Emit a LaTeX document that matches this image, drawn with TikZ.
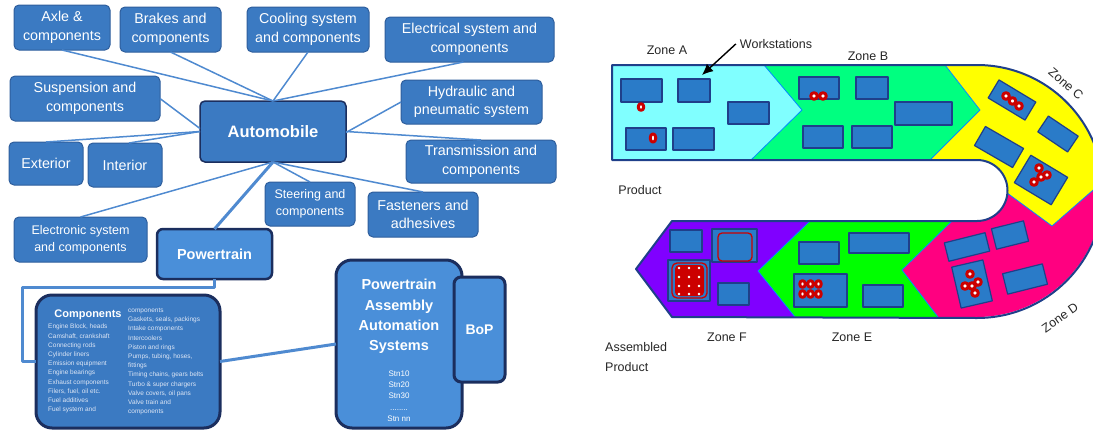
\documentclass[tikz,border=0pt]{standalone}
\usepackage{fontspec}
\setmainfont{Liberation Sans}
\usetikzlibrary{arrows.meta}
\definecolor{boxblue}{HTML}{3B7AC2}
\definecolor{boxline}{HTML}{2E5E9C}
\definecolor{navy}{HTML}{1B2E5E}
\definecolor{lightblue}{HTML}{4A8FD9}
\definecolor{linkblue}{HTML}{4F8AD0}
\definecolor{wsblue}{HTML}{2A7BC8}
\definecolor{wsline}{HTML}{1F3F8A}
\definecolor{ringred}{HTML}{CC0000}
\definecolor{zoneA}{HTML}{80FFFF}
\definecolor{zoneB}{HTML}{00FF80}
\definecolor{zoneC}{HTML}{FFFF00}
\definecolor{zoneD}{HTML}{FF0080}
\definecolor{zoneE}{HTML}{00FF00}
\definecolor{zoneF}{HTML}{8000FF}
\definecolor{listtext}{HTML}{DDE6F5}
\begin{document}
\begin{tikzpicture}[x=1pt, y=-1pt, line join=round,
    box/.style={draw=boxline, fill=boxblue, line width=1pt, rounded corners=5pt, text=white, align=center, font=\fontsize{14.3}{18.5}\selectfont, inner sep=0pt, outer sep=0pt},
    smallbox/.style={box, font=\fontsize{12.5}{17}\selectfont},
    bigbox/.style={box, draw=navy, fill=lightblue, line width=2.5pt, font=\bfseries\fontsize{14.5}{20.5}\selectfont},
    link/.style={draw=linkblue, line width=1.5pt},
    trunk/.style={draw=linkblue, line width=3pt},
    list/.style={text=listtext, align=left, inner sep=0pt, font=\fontsize{6.5}{9.2}\selectfont},
    ws/.style={draw=wsline, fill=wsblue, line width=1.2pt},
    ring/.style={draw=ringred, fill=white, line width=3pt},
    blob/.style={fill=ringred},
    zoneline/.style={draw=blue!45!cyan, line width=0.8pt},
    lbl/.style={font=\fontsize{12.5}{20}\selectfont, text=black!85, inner sep=0pt}]

\useasboundingbox (0,0) rectangle (1093,429);

\node[box, minimum width=96, minimum height=45] (axle) at (62,27.5) {Axle \&\\components};
\node[box, minimum width=101, minimum height=45] (brakes) at (170.5,29.5) {Brakes and\\components};
\node[box, minimum width=122, minimum height=45] (cool) at (308,29.5) {Cooling system\\and components};
\node[box, minimum width=169, minimum height=45] (elec) at (469.5,39.5) {Electrical system and\\components};
\node[box, minimum width=150, minimum height=45] (susp) at (85,98.5) {Suspension and\\components};
\node[box, draw=navy, line width=1.5pt, minimum width=146, minimum height=61, font=\bfseries\fontsize{16.5}{20}\selectfont] (auto) at (273,131.5) {Automobile};
\node[box, minimum width=141, minimum height=44] (hyd) at (471.5,102) {Hydraulic and\\pneumatic system};
\node[box, minimum width=74, minimum height=43] (ext) at (46,163.5) {Exterior};
\node[box, minimum width=74, minimum height=44] (int) at (125,165) {Interior};
\node[box, minimum width=150, minimum height=43] (trans) at (481,161.5) {Transmission and\\components};
\node[smallbox, minimum width=90, minimum height=44] (steer) at (310,204) {Steering and\\components};
\node[box, minimum width=110, minimum height=45] (fast) at (423,214.5) {Fasteners and\\adhesives};
\node[smallbox, minimum width=133, minimum height=45] (elecsys) at (80.5,239.5) {Electronic system\\and components};
\node[bigbox, minimum width=115, minimum height=50, rounded corners=6pt] (pt) at (214.5,254) {Powertrain};

\node[box, draw=navy, line width=3pt, rounded corners=16pt, minimum width=184, minimum height=133] (comp) at (128,361.5) {};
\node[text=white, inner sep=0pt, font=\bfseries\fontsize{11}{13}\selectfont] (comptitle) at (88,315) {Components};
\node[list, anchor=north west] (compleft) at (48,324) {Engine Block, heads\\Camshaft, crankshaft\\Connecting rods\\Cylinder liners\\Emission equipment\\Engine bearings\\Exhaust components\\Filers, fuel, oil etc.\\Fuel additives\\Fuel system and};
\node[list, anchor=north west] (compright) at (128,308) {components\\Gaskets, seals, packings\\Intake components\\Intercoolers\\Piston and rings\\Pumps, tubing, hoses,\\fittings\\Timing chains, gears belts\\Turbo \& super chargers\\Valve covers, oil pans\\Valve train and\\components};

\node[bigbox, line width=3pt, rounded corners=16pt, minimum width=126, minimum height=168] (paas) at (399,344) {};
\node[text=white, align=center, inner sep=0pt, font=\bfseries\fontsize{14.5}{20.3}\selectfont] (paastitle) at (399,316.5) {Powertrain\\Assembly\\Automation\\Systems};
\node[text=white, align=center, inner sep=0pt, font=\fontsize{8}{11.3}\selectfont] (stations) at (399,396) {Stn10\\Stn20\\Stn30\\........\\Stn nn};
\node[bigbox, line width=3pt, rounded corners=7pt, minimum width=51, minimum height=105, font=\bfseries\fontsize{14}{17}\selectfont] (bop) at (479.5,329.5) {BoP};

\draw[link] (axle.south) -- (auto.north);
\draw[link] (brakes.south) -- (auto.north);
\draw[link] (cool.south) -- (auto.north);
\draw[link] ([xshift=-6pt]elec.south) -- (auto.north);
\draw[link] (hyd.west) -- ([yshift=-1pt]auto.east);
\draw[link] (trans.north) -- (auto.east);
\draw[link] (susp.east) -- ([yshift=3pt]auto.west);
\draw[link] (ext.north) -- (auto.west);
\draw[link] ([xshift=4pt]int.north) -- (auto.west);
\draw[link] (elecsys.north) -- (auto.south);
\draw[link] (steer.north) -- (auto.south);
\draw[link] (fast.north) -- (auto.south);
\draw[trunk] (pt.north) -- (auto.south);
\draw[trunk] (pt.south) -- ++(0,8) -| ([xshift=-14pt]comp.west) -- (comp.west);
\draw[trunk] (comp.east) -- (paas.west);

\fill[zoneA] (612,65) -- (764,65) -- (802,110) -- (751,160) -- (612,160) -- cycle;
\fill[zoneB] (764,65) -- (945,65) -- (980,110) -- (930,160) -- (751,160) -- (802,110) -- cycle;
\fill[zoneC] (945,65) -- (977,65) arc[start angle=-90, end angle=-4, radius=126.5] -- (1052,226) -- (1007.4,193.2) arc[start angle=5, end angle=-90, radius=30.5] -- (930,160) -- (980,110) -- cycle;
\fill[zoneD] (1102.7,181.7) arc[start angle=-4, end angle=90, radius=126.5] -- (938,317) -- (902,270) -- (952,221) -- (977,221) arc[start angle=90, end angle=5, radius=30.5] -- (1052,226) -- cycle;
\fill[zoneE] (952,221) -- (902,270) -- (938,317) -- (795,317) -- (758,271) -- (810,221) -- cycle;
\fill[zoneF] (810,221) -- (758,271) -- (795,317) -- (672,317) -- (636,269) -- (672,221) -- cycle;

\draw[zoneline] (764,65) -- (802,110) -- (751,160);
\draw[zoneline] (945,65) -- (980,110) -- (930,160);
\draw[zoneline] (1007.4,193.2) -- (1052,226) -- (1102.7,181.7);
\draw[zoneline] (952,221) -- (902,270) -- (938,317);
\draw[zoneline] (810,221) -- (758,271) -- (795,317);
\draw[draw=wsline, line width=2pt] (612,65) -- (977,65) arc[start angle=-90, end angle=90, radius=126.5] -- (672,317) -- (636,269) -- (672,221) -- (977,221) arc[start angle=90, end angle=-90, radius=30.5] -- (612,160) -- cycle;

\draw[ws] (621,79) rectangle (662,102);
\draw[ws] (678,79) rectangle (710,102);
\draw[ws] (728,102) rectangle (769,124);
\draw[ws] (626,128) rectangle (666,150);
\draw[ws] (673,128) rectangle (714,150);
\draw[ring] (641,107) ellipse[x radius=2.8, y radius=3.4];
\draw[ring] (653,138) ellipse[x radius=2.8, y radius=4.2];

\draw[ws] (799,77) rectangle (839,99);
\draw[ws] (856,77) rectangle (888,99);
\draw[ws] (803,126) rectangle (843,148);
\draw[ws] (852,126) rectangle (892,148);
\draw[ws] (895,102) rectangle (952,125);
\draw[ring] (814,96) circle[radius=3.3] (823,96) circle[radius=3.3];

\draw[ws, rotate around={-31:(1012,100)}] (990.5,89.5) rectangle (1033.5,110.5);
\draw[ws, rotate around={-34:(1058,134)}] (1040,124.5) rectangle (1076,143.5);
\draw[ws, rotate around={-30:(999,147)}] (977,136) rectangle (1021,158);
\draw[ws, rotate around={-31:(1041,180)}] (1019.5,164) rectangle (1062.5,196);
\draw[ring] (1006,96) circle[radius=3.3] (1012.5,101) circle[radius=3.3] (1019,106) circle[radius=3.3];
\draw[ring] (1039,168) circle[radius=3.3] (1047,175) circle[radius=3.3] (1041,177) circle[radius=3.3] (1034,182) circle[radius=3.3];

\draw[ws, rotate around={14:(967,247)}] (946,237.5) rectangle (988,256.5);
\draw[ws, rotate around={14:(1010,235)}] (993.5,224.5) rectangle (1026.5,245.5);
\draw[ws, rotate around={13:(972,284)}] (956,263) rectangle (988,305);
\draw[ws, rotate around={14:(1025,279)}] (1004.5,268.5) rectangle (1045.5,289.5);
\draw[ring] (970,274) circle[radius=3.3] (978,282) circle[radius=3.3] (975,293) circle[radius=3.3] (965,286) circle[radius=3.3] (972,286) circle[radius=3.3];

\draw[ws] (799,242) rectangle (839,264);
\draw[ws] (849,233) rectangle (909,253);
\draw[ws] (794,274) rectangle (847,307);
\draw[ws] (863,285) rectangle (903,307);
\draw[ring] (802.5,284) ellipse[x radius=2.8, y radius=3.4] (810.5,284) ellipse[x radius=2.8, y radius=3.4] (818.5,284) ellipse[x radius=2.8, y radius=3.4];
\draw[ring] (802.5,294) ellipse[x radius=2.8, y radius=3.4] (810.5,294) ellipse[x radius=2.8, y radius=3.4] (818.5,294) ellipse[x radius=2.8, y radius=3.4];

\draw[ws] (670,230) rectangle (702,252);
\draw[ws] (712,229) rectangle (757,262);
\draw[ws] (668,260) rectangle (710,301);
\draw[ws] (718,283) rectangle (749,305);
\draw[ringred, line width=1.3pt, rounded corners=4pt] (718,233) rectangle (752,261);
\draw[ringred, line width=1.3pt, rounded corners=5pt] (672,263) rectangle (707,298);
\fill[blob, rounded corners=4pt] (675,265) rectangle (704,296);
\fill[white] (679,268) circle[radius=1.3] (689,268) circle[radius=1.3] (699,268) circle[radius=1.3]
  (679,277) circle[radius=1.3] (689,277) circle[radius=1.3] (699,277) circle[radius=1.3]
  (679,286) circle[radius=1.3] (689,286) circle[radius=1.3] (699,286) circle[radius=1.3]
  (679,294) circle[radius=1.3] (689,294) circle[radius=1.3] (699,294) circle[radius=1.3];

\node[lbl] (zonea) at (667,50) {Zone A};
\node[lbl] (zoneb) at (868,56) {Zone B};
\node[lbl, rotate=-41] (zonec) at (1066,84) {Zone C};
\node[lbl, rotate=35] (zoned) at (1060,318) {Zone D};
\node[lbl] (zonee) at (852,337) {Zone E};
\node[lbl] (zonef) at (727,337) {Zone F};
\node[lbl] (product) at (640,190) {Product};
\node[lbl, anchor=west, align=left] (assembled) at (605,357) {Assembled\\Product};
\node[lbl] (wslabel) at (776,44) {Workstations};
\coordinate (wstip) at (702,75);
\draw[-{Latex[length=11pt, width=10pt]}, line width=1.4pt] ([xshift=-4pt]wslabel.west) -- (wstip);
\end{tikzpicture}
\end{document}
